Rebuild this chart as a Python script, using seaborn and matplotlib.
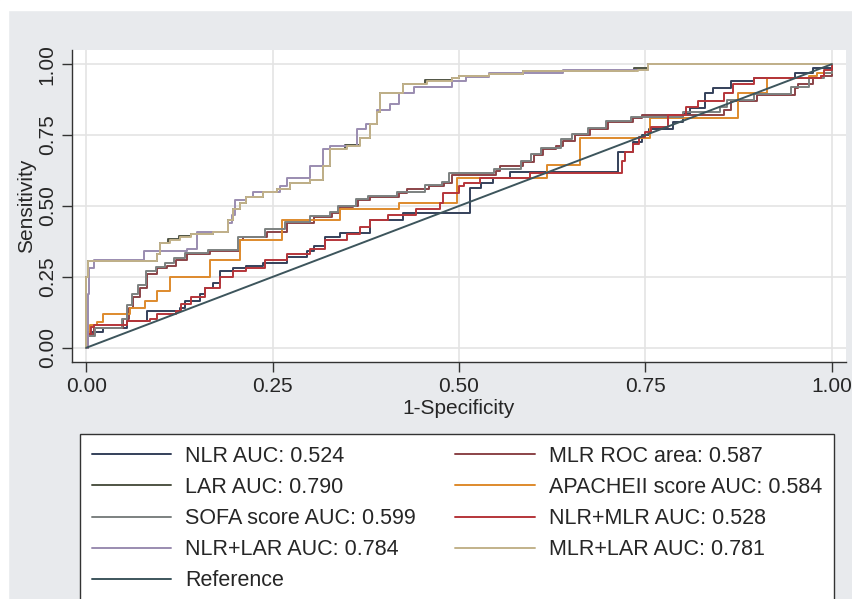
import matplotlib
matplotlib.use('Agg')
import matplotlib.pyplot as plt
from matplotlib.patches import Rectangle
import seaborn as sns

# ROC curves: (1-specificity, sensitivity) at each step
nlr_x = [0, 0.003, 0.023, 0.055, 0.082, 0.126, 0.133, 0.153, 0.16, 0.17, 0.18, 0.197, 0.215, 0.237, 0.27,
         0.296, 0.306, 0.32, 0.34, 0.38, 0.425, 0.515, 0.53, 0.546, 0.568, 0.713, 0.733, 0.745, 0.755,
         0.787, 0.80, 0.81, 0.83, 0.84, 0.865, 0.895, 0.95, 0.975, 1.0]
nlr_y = [0, 0.055, 0.07, 0.095, 0.13, 0.14, 0.165, 0.19, 0.21, 0.23, 0.27, 0.28, 0.29, 0.30, 0.32,
         0.34, 0.36, 0.39, 0.405, 0.45, 0.475, 0.565, 0.58, 0.60, 0.62, 0.69, 0.725, 0.75, 0.77,
         0.795, 0.825, 0.845, 0.90, 0.915, 0.94, 0.95, 0.97, 0.985, 1.0]

mlr_x = [0, 0.003, 0.01, 0.05, 0.057, 0.063, 0.072, 0.082, 0.095, 0.108, 0.12, 0.135, 0.166, 0.206, 0.21,
         0.243, 0.27, 0.305, 0.33, 0.34, 0.358, 0.365, 0.38, 0.42, 0.43, 0.46, 0.48, 0.49, 0.55, 0.555,
         0.586, 0.60, 0.613, 0.63, 0.64, 0.655, 0.676, 0.70, 0.733, 0.745, 0.855, 0.865, 0.90, 0.95,
         0.955, 0.975, 0.985, 1.0]
mlr_y = [0, 0.05, 0.07, 0.10, 0.14, 0.18, 0.21, 0.26, 0.28, 0.29, 0.31, 0.33, 0.34, 0.38, 0.39,
         0.41, 0.44, 0.46, 0.475, 0.495, 0.50, 0.52, 0.53, 0.545, 0.56, 0.57, 0.58, 0.61, 0.625, 0.64,
         0.655, 0.68, 0.70, 0.71, 0.73, 0.75, 0.77, 0.795, 0.81, 0.82, 0.84, 0.87, 0.89, 0.915,
         0.93, 0.95, 0.96, 1.0]

lar_x = [0, 0, 0.003, 0.095, 0.099, 0.11, 0.124, 0.14, 0.17, 0.19, 0.197, 0.206, 0.215, 0.237,
         0.256, 0.273, 0.30, 0.318, 0.327, 0.347, 0.367, 0.38, 0.39, 0.394, 0.425, 0.455, 0.49, 0.50,
         0.54, 0.586, 0.735, 0.753, 1.0]
lar_y = [0, 0.25, 0.307, 0.33, 0.37, 0.385, 0.395, 0.40, 0.41, 0.45, 0.49, 0.51, 0.53, 0.55,
         0.56, 0.58, 0.59, 0.64, 0.70, 0.715, 0.74, 0.79, 0.83, 0.90, 0.93, 0.945, 0.95, 0.96,
         0.965, 0.975, 0.985, 1.0, 1.0]

apache_x = [0, 0.003, 0.005, 0.015, 0.023, 0.059, 0.079, 0.095, 0.113, 0.166, 0.206, 0.262, 0.34, 0.42,
            0.497, 0.618, 0.662, 0.756, 0.874, 0.913, 0.97, 0.98, 1.0]
apache_y = [0, 0.04, 0.08, 0.09, 0.12, 0.14, 0.165, 0.20, 0.25, 0.31, 0.38, 0.45, 0.49, 0.51,
            0.60, 0.645, 0.74, 0.81, 0.90, 0.95, 0.96, 0.97, 1.0]

sofa_x = [0, 0.003, 0.012, 0.048, 0.055, 0.062, 0.07, 0.08, 0.093, 0.106, 0.118, 0.133, 0.163, 0.203,
          0.24, 0.267, 0.30, 0.327, 0.338, 0.362, 0.378, 0.417, 0.455, 0.477, 0.487, 0.547, 0.583,
          0.597, 0.61, 0.637, 0.652, 0.673, 0.697, 0.73, 0.80, 0.85, 0.86, 0.895, 0.945, 0.97, 0.99, 1.0]
sofa_y = [0, 0.04, 0.07, 0.10, 0.15, 0.19, 0.22, 0.27, 0.285, 0.30, 0.315, 0.335, 0.345, 0.39,
          0.42, 0.445, 0.465, 0.48, 0.50, 0.525, 0.535, 0.55, 0.575, 0.585, 0.615, 0.63, 0.66,
          0.685, 0.705, 0.735, 0.755, 0.775, 0.80, 0.815, 0.83, 0.85, 0.875, 0.895, 0.92, 0.95, 0.97, 1.0]

nlr_mlr_x = [0, 0.002, 0.007, 0.01, 0.055, 0.085, 0.095, 0.12, 0.127, 0.14, 0.16, 0.18, 0.197, 0.215,
             0.24, 0.27, 0.30, 0.32, 0.35, 0.367, 0.38, 0.405, 0.443, 0.475, 0.479, 0.50, 0.507, 0.528,
             0.595, 0.718, 0.723, 0.733, 0.742, 0.75, 0.757, 0.78, 0.805, 0.82, 0.855, 0.867, 0.895,
             0.985, 0.99, 1.0]
nlr_mlr_y = [0, 0.05, 0.075, 0.08, 0.095, 0.10, 0.12, 0.13, 0.155, 0.18, 0.21, 0.25, 0.27, 0.28,
             0.31, 0.33, 0.35, 0.38, 0.40, 0.425, 0.45, 0.47, 0.49, 0.51, 0.545, 0.57, 0.58, 0.60,
             0.615, 0.66, 0.69, 0.72, 0.745, 0.76, 0.78, 0.82, 0.85, 0.87, 0.90, 0.93, 0.95,
             0.96, 0.98, 1.0]

nlr_lar_x = [0, 0.002, 0.004, 0.01, 0.077, 0.135, 0.148, 0.19, 0.195, 0.20, 0.215, 0.224, 0.26, 0.27,
             0.30, 0.318, 0.327, 0.363, 0.375, 0.39, 0.408, 0.42, 0.44, 0.49, 0.51, 0.54, 0.64, 0.753, 1.0]
nlr_lar_y = [0, 0.19, 0.28, 0.31, 0.34, 0.35, 0.41, 0.44, 0.47, 0.52, 0.53, 0.55, 0.57, 0.60,
             0.64, 0.70, 0.71, 0.77, 0.79, 0.84, 0.86, 0.90, 0.92, 0.94, 0.955, 0.97, 0.98, 1.0, 1.0]

mlr_lar_x = [0, 0, 0.003, 0.095, 0.099, 0.113, 0.126, 0.14, 0.17, 0.19, 0.197, 0.206, 0.215, 0.237,
             0.256, 0.273, 0.30, 0.318, 0.327, 0.35, 0.367, 0.38, 0.39, 0.394, 0.425, 0.457, 0.49, 0.50,
             0.54, 0.586, 0.74, 0.753, 1.0]
mlr_lar_y = [0, 0.25, 0.307, 0.33, 0.37, 0.38, 0.39, 0.40, 0.41, 0.45, 0.49, 0.51, 0.53, 0.55,
             0.56, 0.58, 0.59, 0.64, 0.70, 0.71, 0.74, 0.79, 0.83, 0.90, 0.93, 0.94, 0.95, 0.96,
             0.965, 0.975, 0.98, 1.0, 1.0]

ref_x = [0, 1]
ref_y = [0, 1]

labels = ['NLR AUC: 0.524', 'MLR ROC area: 0.587', 'LAR AUC: 0.790', 'APACHEII score AUC: 0.584',
          'SOFA score AUC: 0.599', 'NLR+MLR AUC: 0.528', 'NLR+LAR AUC: 0.784', 'MLR+LAR AUC: 0.781',
          'Reference']
colors = ['#34405a', '#8b4347', '#4f5444', '#de8a2c', '#7c8180', '#b5353a', '#9a8cb0', '#c2b28a',
          '#3d555c']
curves = [(nlr_x, nlr_y), (mlr_x, mlr_y), (lar_x, lar_y), (apache_x, apache_y), (sofa_x, sofa_y),
          (nlr_mlr_x, nlr_mlr_y), (nlr_lar_x, nlr_lar_y), (mlr_lar_x, mlr_lar_y), (ref_x, ref_y)]

sns.set_style('ticks')
plt.rcParams['font.family'] = ['Liberation Sans', 'DejaVu Sans']

W, H = 852, 599
fig = plt.figure(figsize=(W / 100, H / 100), dpi=100)
fig.patch.set_facecolor('#e8eaed')
fig.add_artist(Rectangle((0, 1 - 10 / H), 1, 10 / H, transform=fig.transFigure, color='white', zorder=0))
fig.add_artist(Rectangle((0, 0), 8 / W, 1, transform=fig.transFigure, color='white', zorder=0))

ax = fig.add_axes([72 / W, (H - 362) / H, (846 - 72) / W, (362 - 50) / H])
ax.set_facecolor('white')

lines = []
for (cx, cy), lab, col in zip(curves, labels, colors):
    style = 'default' if lab == 'Reference' else 'steps-post'
    sns.lineplot(x=cx, y=cy, ax=ax, color=col, lw=1.4, sort=False, estimator=None,
                 drawstyle=style, label=lab, legend=False)
    lines.append(ax.lines[-1])

ax.set_xlim(-0.019, 1.019)
ax.set_ylim(-0.05, 1.05)
ticks = [0, 0.25, 0.5, 0.75, 1.0]
ax.set_xticks(ticks)
ax.set_yticks(ticks)
ax.set_xticklabels([f'{t:.2f}' for t in ticks])
ax.set_yticklabels([f'{t:.2f}' for t in ticks], rotation=90, va='center')
ax.grid(True, color='#e4e4e4', lw=1.2)
ax.tick_params(axis='both', labelsize=15, length=7, width=1, color='#333333', pad=4)
for s in ['top', 'right']:
    ax.spines[s].set_visible(False)
for s in ['left', 'bottom']:
    ax.spines[s].set_color('#333333')
    ax.spines[s].set_linewidth(1.0)
ax.set_xlabel('1-Specificity', fontsize=15, labelpad=2)
ax.set_ylabel('Sensitivity', fontsize=15, labelpad=1)

order = [0, 2, 4, 6, 8, 1, 3, 5, 7]
leg = ax.legend([lines[i] for i in order], [labels[i] for i in order],
                loc='upper left', bbox_to_anchor=(80 / W, 1 - 434 / H), bbox_transform=fig.transFigure,
                ncol=2, frameon=True, fancybox=False, edgecolor='#333333', fontsize=15.5,
                handlelength=3.7, handletextpad=0.65, columnspacing=1.8, labelspacing=0.47,
                borderaxespad=0, borderpad=0.55)
leg.get_frame().set_linewidth(1.0)
leg.get_frame().set_facecolor('white')
leg.get_frame().set_alpha(1)

fig.savefig('out.png', dpi=100, facecolor=fig.get_facecolor())
